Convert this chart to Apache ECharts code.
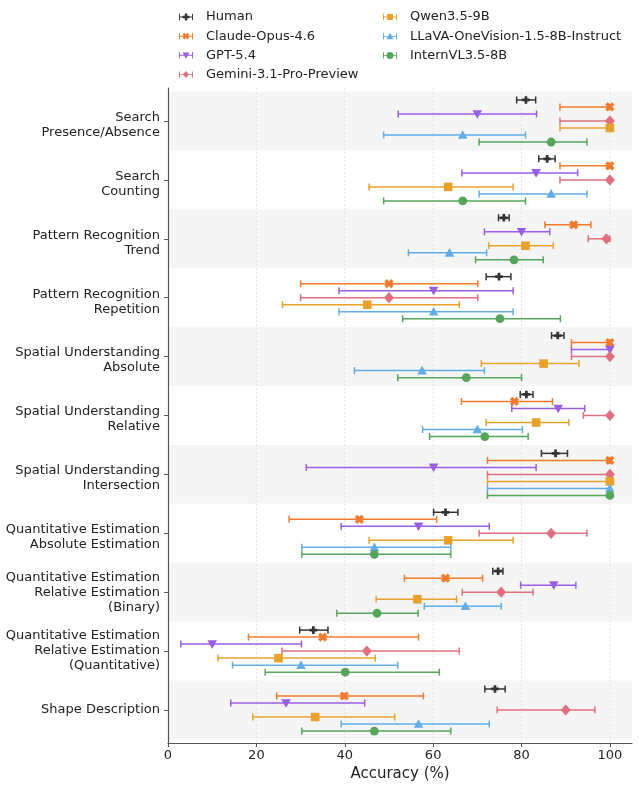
<!DOCTYPE html>
<html lang="en">
  <head>
    <meta charset="UTF-8" />
    <title>Accuracy by task</title>
    <script src="https://cdn.jsdelivr.net/npm/echarts@6.0.0/dist/echarts.min.js"></script>
    <style>
      html, body { margin: 0; padding: 0; background: #fff; }
      #main { width: 639px; height: 789px; }
    </style>
  </head>
  <body>
    <div id="main"></div>

    <script>
      // task categories (top to bottom)
      const categories = [
        'Search\nPresence/Absence',
        'Search\nCounting',
        'Pattern Recognition\nTrend',
        'Pattern Recognition\nRepetition',
        'Spatial Understanding\nAbsolute',
        'Spatial Understanding\nRelative',
        'Spatial Understanding\nIntersection',
        'Quantitative Estimation\nAbsolute Estimation',
        'Quantitative Estimation\nRelative Estimation\n(Binary)',
        'Quantitative Estimation\nRelative Estimation\n(Quantitative)',
        'Shape Description',
      ];

      // [accuracy, lower, upper] per category
      const human = [
        [81.0, 78.9, 83.2], [85.8, 83.9, 87.6], [76.0, 74.8, 77.2], [74.9, 72.0, 77.6],
        [88.2, 86.8, 89.6], [81.1, 79.7, 82.6], [87.7, 84.5, 90.4], [62.8, 60.1, 65.6],
        [74.7, 73.5, 75.8], [32.9, 29.8, 36.2], [74.0, 71.7, 76.3],
      ];
      const claude = [
        [100, 88.7, 100], [100, 88.7, 100], [91.8, 85.3, 95.7], [50.0, 30.0, 70.1],
        [100, 91.3, 100], [78.4, 66.4, 87.0], [100, 72.3, 100], [43.3, 27.4, 60.8],
        [62.8, 53.5, 71.2], [35.0, 18.2, 56.7], [39.9, 24.6, 57.8],
      ];
      const gpt = [
        [70.0, 52.1, 83.4], [83.3, 66.5, 92.7], [80.0, 71.6, 86.4], [60.1, 38.7, 78.1],
        [100, 91.3, 100], [88.3, 77.8, 94.3], [60.1, 31.3, 83.3], [56.7, 39.2, 72.7],
        [87.3, 79.8, 92.3], [10.0, 2.9, 30.2], [26.7, 14.2, 44.5],
      ];
      const gemini = [
        [100, 88.7, 100], [100, 88.7, 100], [99.2, 95.1, 100], [50.0, 30.0, 70.1],
        [100, 91.3, 100], [100, 94.0, 100], [100, 72.3, 100], [86.7, 70.4, 94.8],
        [75.4, 66.6, 82.6], [45.0, 25.8, 65.9], [90.0, 74.5, 96.6],
      ];
      const qwen = [
        [100, 88.7, 100], [63.4, 45.5, 78.1], [80.9, 72.6, 87.2], [45.1, 25.9, 65.9],
        [85.0, 70.9, 93.0], [83.3, 72.0, 90.7], [100, 72.3, 100], [63.4, 45.5, 78.1],
        [56.4, 47.1, 65.3], [25.0, 11.3, 46.9], [33.3, 19.2, 51.3],
      ];
      const llava = [
        [66.7, 48.8, 80.9], [86.7, 70.4, 94.8], [63.7, 54.4, 72.1], [60.1, 38.7, 78.1],
        [57.5, 42.2, 71.6], [70.0, 57.6, 80.2], [100, 72.3, 100], [46.7, 30.3, 64.0],
        [67.3, 58.0, 75.4], [30.1, 14.6, 52.0], [56.7, 39.2, 72.7],
      ];
      const intern = [
        [86.7, 70.4, 94.8], [66.7, 48.8, 80.9], [78.3, 69.6, 84.9], [75.1, 53.1, 88.8],
        [67.5, 52.0, 80.0], [71.7, 59.2, 81.5], [100, 72.3, 100], [46.7, 30.3, 64.0],
        [47.3, 38.2, 56.6], [40.1, 22.0, 61.4], [46.7, 30.3, 64.0],
      ];

      const xTicks = [0, 20, 40, 60, 80, 100];
      const shadedRows = [0, 2, 4, 6, 8, 10];

      const models = [
        { name: 'Human', data: human, color: '#333333', shape: 'plus', r: 3.8 },
        { name: 'Claude-Opus-4.6', data: claude, color: '#f27a2c', shape: 'x', r: 4.8 },
        { name: 'GPT-5.4', data: gpt, color: '#9a5ee3', shape: 'tridown', r: 4.8 },
        { name: 'Gemini-3.1-Pro-Preview', data: gemini, color: '#e0707e', shape: 'diamond', r: 5.6 },
        { name: 'Qwen3.5-9B', data: qwen, color: '#e8a22c', shape: 'square', r: 4.3 },
        { name: 'LLaVA-OneVision-1.5-8B-Instruct', data: llava, color: '#62ade6', shape: 'triup', r: 4.8 },
        { name: 'InternVL3.5-8B', data: intern, color: '#55a65a', shape: 'circle', r: 4.4 },
      ];

      const font = 'DejaVu Sans';
      const dodge = 0.119;
      const cap = 3.5;

      // polygon points for marker shapes (clockwise on screen)
      function markerPoints(shape, cx, cy, r) {
        if (shape === 'square') {
          return [[cx - r, cy - r], [cx + r, cy - r], [cx + r, cy + r], [cx - r, cy + r]];
        }
        if (shape === 'diamond') {
          return [[cx, cy - r], [cx + r * 0.9, cy], [cx, cy + r], [cx - r * 0.9, cy]];
        }
        if (shape === 'triup') {
          return [[cx, cy - r], [cx + r, cy + r * 0.8], [cx - r, cy + r * 0.8]];
        }
        if (shape === 'tridown') {
          return [[cx - r, cy - r * 0.8], [cx + r, cy - r * 0.8], [cx, cy + r]];
        }
        // plus / x : thick cross
        const a = r * 0.36;
        const pts = [
          [-a, -r], [a, -r], [a, -a], [r, -a], [r, a], [a, a],
          [a, r], [-a, r], [-a, a], [-r, a], [-r, -a], [-a, -a],
        ];
        const ang = shape === 'x' ? Math.PI / 4 : 0;
        const c = Math.cos(ang), s = Math.sin(ang);
        return pts.map(([x, y]) => [cx + x * c - y * s, cy + x * s + y * c]);
      }

      function legendIcon(m) {
        let p = 'M1.6,5.2 L22.4,5.2 L22.4,6.8 L1.6,6.8 Z ' +
          'M0,0.5 L1.6,0.5 L1.6,11.5 L0,11.5 Z M22.4,0.5 L24,0.5 L24,11.5 L22.4,11.5 Z ';
        if (m.shape === 'circle') {
          p += 'M12,0 A6,6 0 1,1 12,12 A6,6 0 1,1 12,0 Z';
        } else {
          const pts = markerPoints(m.shape, 12, 6, m.shape === 'square' ? 5 : 6);
          p += 'M' + pts.map((q) => q[0].toFixed(2) + ',' + q[1].toFixed(2)).join(' L') + ' Z';
        }
        return 'path://' + p;
      }

      function makeRender(k, m) {
        return function (params, api) {
          const y = api.value(3) + (k - 3) * dodge;
          const c = api.coord([api.value(0), y]);
          const lo = api.coord([api.value(1), y]);
          const hi = api.coord([api.value(2), y]);
          const line = { stroke: m.color, lineWidth: 1.5 };
          const children = [
            { type: 'line', shape: { x1: lo[0], y1: lo[1], x2: hi[0], y2: hi[1] }, style: line },
            { type: 'line', shape: { x1: lo[0], y1: lo[1] - cap, x2: lo[0], y2: lo[1] + cap }, style: line },
            { type: 'line', shape: { x1: hi[0], y1: hi[1] - cap, x2: hi[0], y2: hi[1] + cap }, style: line },
          ];
          if (m.shape === 'circle') {
            children.push({ type: 'circle', shape: { cx: c[0], cy: c[1], r: m.r }, style: { fill: m.color } });
          } else {
            children.push({
              type: 'polygon',
              shape: { points: markerPoints(m.shape, c[0], c[1], m.r) },
              style: { fill: m.color },
            });
          }
          return { type: 'group', children: children };
        };
      }

      const series = [
        {
          type: 'custom',
          name: 'bands',
          silent: true,
          z: 0,
          data: shadedRows.map((i) => [i]),
          encode: { y: 0 },
          renderItem: function (params, api) {
            const i = api.value(0);
            const p0 = api.coord([0, i - 0.5]);
            const p1 = api.coord([105, i + 0.5]);
            return {
              type: 'rect',
              shape: {
                x: p0[0], y: Math.min(p0[1], p1[1]),
                width: p1[0] - p0[0], height: Math.abs(p1[1] - p0[1]),
              },
              style: { fill: '#f5f5f5' },
            };
          },
        },
        {
          type: 'custom',
          name: 'grid',
          silent: true,
          z: 1,
          data: xTicks.slice(1).map((v) => [v]),
          encode: { x: 0 },
          renderItem: function (params, api) {
            const v = api.value(0);
            const p0 = api.coord([v, -0.56]);
            const p1 = api.coord([v, 10.56]);
            return {
              type: 'line',
              shape: { x1: p0[0], y1: p0[1], x2: p1[0], y2: p1[1] },
              style: { stroke: '#dcdcdc', lineWidth: 0.8, lineDash: [2, 2] },
            };
          },
        },
      ];

      models.forEach((m, k) => {
        series.push({
          type: 'custom',
          name: m.name,
          z: 2 + k,
          itemStyle: { color: m.color },
          data: m.data.map((d, i) => [d[0], d[1], d[2], i]),
          encode: { x: [0, 1, 2], y: 3 },
          renderItem: makeRender(k, m),
        });
      });

      const legendText = { fontFamily: font, fontSize: 13, color: '#222', lineHeight: 14, padding: [0, 0, 0, 8] };
      const legendBase = {
        orient: 'vertical',
        top: 5,
        itemWidth: 14,
        itemHeight: 7,
        itemGap: 5.2,
        selectedMode: false,
        textStyle: legendText,
      };

      const options = {
        animation: false,
        backgroundColor: '#fff',
        grid: { left: 168, right: 7, top: 88, bottom: 46 },
        legend: [
          Object.assign({}, legendBase, {
            left: 174,
            data: models.slice(0, 4).map((m) => ({ name: m.name, icon: legendIcon(m) })),
          }),
          Object.assign({}, legendBase, {
            left: 378,
            data: models.slice(4).map((m) => ({ name: m.name, icon: legendIcon(m) })),
          }),
        ],
        xAxis: {
          type: 'value',
          min: 0,
          max: 105,
          interval: 20,
          name: 'Accuracy (%)',
          nameLocation: 'middle',
          nameGap: 23,
          nameTextStyle: { fontFamily: font, fontSize: 15, color: '#222' },
          axisLine: { onZero: false, lineStyle: { color: '#555', width: 1.2 } },
          axisTick: { customValues: xTicks, length: 4, lineStyle: { color: '#555' } },
          axisLabel: {
            customValues: xTicks,
            margin: 6,
            fontFamily: font,
            fontSize: 13,
            color: '#222',
          },
          splitLine: { show: false },
        },
        yAxis: {
          type: 'value',
          inverse: true,
          min: -0.56,
          max: 10.56,
          axisLine: { show: true, onZero: false, lineStyle: { color: '#555', width: 1.2 } },
          axisTick: {
            show: true,
            customValues: categories.map((c, i) => i),
            length: 4,
            lineStyle: { color: '#555' },
          },
          axisLabel: {
            customValues: categories.map((c, i) => i),
            margin: 8,
            fontFamily: font,
            fontSize: 13,
            color: '#222',
            align: 'right',
            formatter: function (v) {
              const lines = categories[Math.round(v)].split('\n');
              const body = lines.map((t) => '{t|' + t + '}').join('\n');
              // two-line labels sit a little lower, as in the source figure
              return lines.length === 2 ? '{pad| }\n' + body : body;
            },
            rich: {
              t: { fontFamily: font, fontSize: 13, color: '#222', lineHeight: 15, align: 'right' },
              pad: { fontSize: 1, lineHeight: 8 },
            },
          },
          splitLine: { show: false },
        },
        series: series,
      };

      const myChart = echarts.init(document.getElementById('main'));
      myChart.setOption(options);

      window.onresize = function () {
        myChart.resize();
      };
    </script>
  </body>
</html>
